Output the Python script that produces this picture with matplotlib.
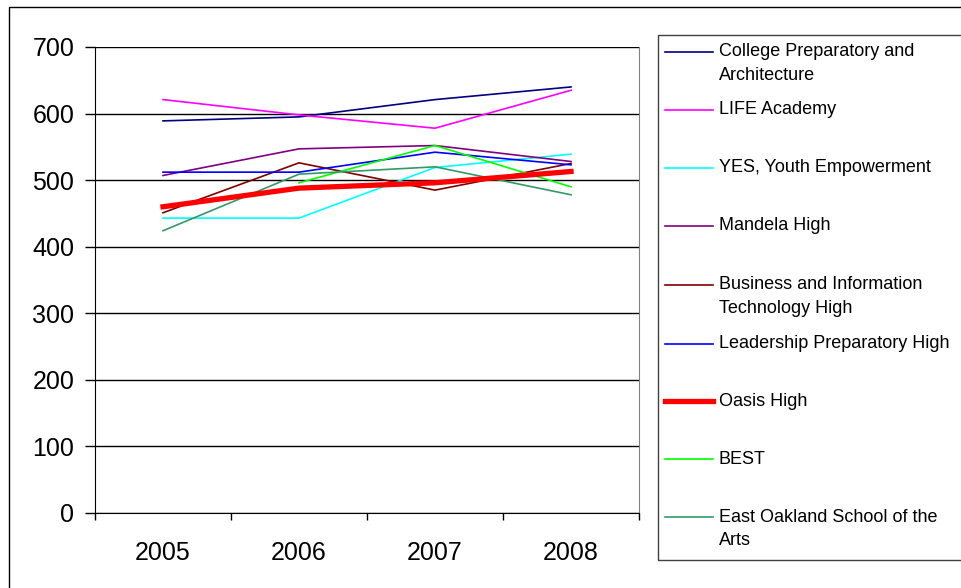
import numpy as np
import matplotlib
matplotlib.use('Agg')
import matplotlib.pyplot as plt
from matplotlib.lines import Line2D
from matplotlib.patches import Rectangle

plt.rcParams['font.family'] = ['Liberation Sans', 'DejaVu Sans']

years = ['2005', '2006', '2007', '2008']

college_prep = [589, 595, 621, 640]
life_academy = [621, 598, 578, 635]
yes_youth = [443, 443, 519, 539]
mandela_high = [507, 547, 552, 528]
business_it = [451, 526, 485, 525]
leadership_prep = [512, 512, 542, 523]
oasis_high = [460, 488, 496, 513]
best = [np.nan, 496, 552, 490]
east_oakland = [424, 509, 520, 478]

series_names = [
    'College Preparatory and\nArchitecture',
    'LIFE Academy',
    'YES, Youth Empowerment',
    'Mandela High',
    'Business and Information\nTechnology High',
    'Leadership Preparatory High',
    'Oasis High',
    'BEST',
    'East Oakland School of the\nArts',
]
series_values = [college_prep, life_academy, yes_youth, mandela_high, business_it,
                 leadership_prep, oasis_high, best, east_oakland]
series_colors = ['#000080', '#FF00FF', '#00FFFF', '#800080', '#800000',
                 '#0000FF', '#FF0000', '#00FF00', '#339966']
series_widths = [1.2, 1.2, 1.2, 1.2, 1.2, 1.2, 3.8, 1.2, 1.2]

W, H = 961, 588
fig = plt.figure(figsize=(W / 100, H / 100), dpi=100)

def fx(x):
    return x / W

def fy(y):
    return 1 - y / H

# outer chart border
fig.add_artist(Rectangle((fx(9), -0.05), 1.2, fy(7) + 0.05, transform=fig.transFigure,
                         fill=False, edgecolor='black', linewidth=1.0, clip_on=False))

ax = fig.add_axes([fx(95), fy(513), (639 - 95) / W, (513 - 47) / H])
x = np.arange(len(years))
for vals, col, lw in zip(series_values, series_colors, series_widths):
    ax.plot(x, vals, color=col, linewidth=lw, zorder=3 if lw > 2 else 2)

ax.set_xlim(-0.5, len(years) - 0.5)
ax.set_ylim(0, 700)
ax.set_yticks(np.arange(0, 701, 100))
ax.yaxis.grid(True, color='black', linewidth=1.0)
ax.set_axisbelow(True)
ax.set_xticks(x)
ax.set_xticklabels(years)
ax.set_xticks(np.arange(-0.5, len(years), 1.0), minor=True)
ax.tick_params(axis='x', which='major', length=0, pad=20, labelsize=18)
ax.tick_params(axis='x', which='minor', length=5, width=1, direction='out', color='black')
ax.tick_params(axis='y', length=7, width=1, direction='out', pad=8, labelsize=18)

for s in ['top']:
    ax.spines[s].set_visible(False)
ax.spines['right'].set_color('#808080')
ax.spines['left'].set_color('black')
ax.spines['bottom'].set_color('black')

# legend box
fig.add_artist(Rectangle((fx(658), fy(560)), 1.0, fy(35) - fy(560), transform=fig.transFigure,
                         fill=False, edgecolor='#404040', linewidth=1.0, clip_on=False))
entry_y = [52, 110, 168, 226, 285, 344, 401, 459, 517]
for name, col, lw, ey in zip(series_names, series_colors, series_widths, entry_y):
    fig.add_artist(Line2D([fx(665), fx(713)], [fy(ey), fy(ey)], color=col, linewidth=lw,
                          transform=fig.transFigure))
    for i, line in enumerate(name.split('\n')):
        fig.text(fx(719), fy(ey + 23.5 * i), line, fontsize=13, va='center', ha='left')

fig.savefig('out.png', dpi=100)
